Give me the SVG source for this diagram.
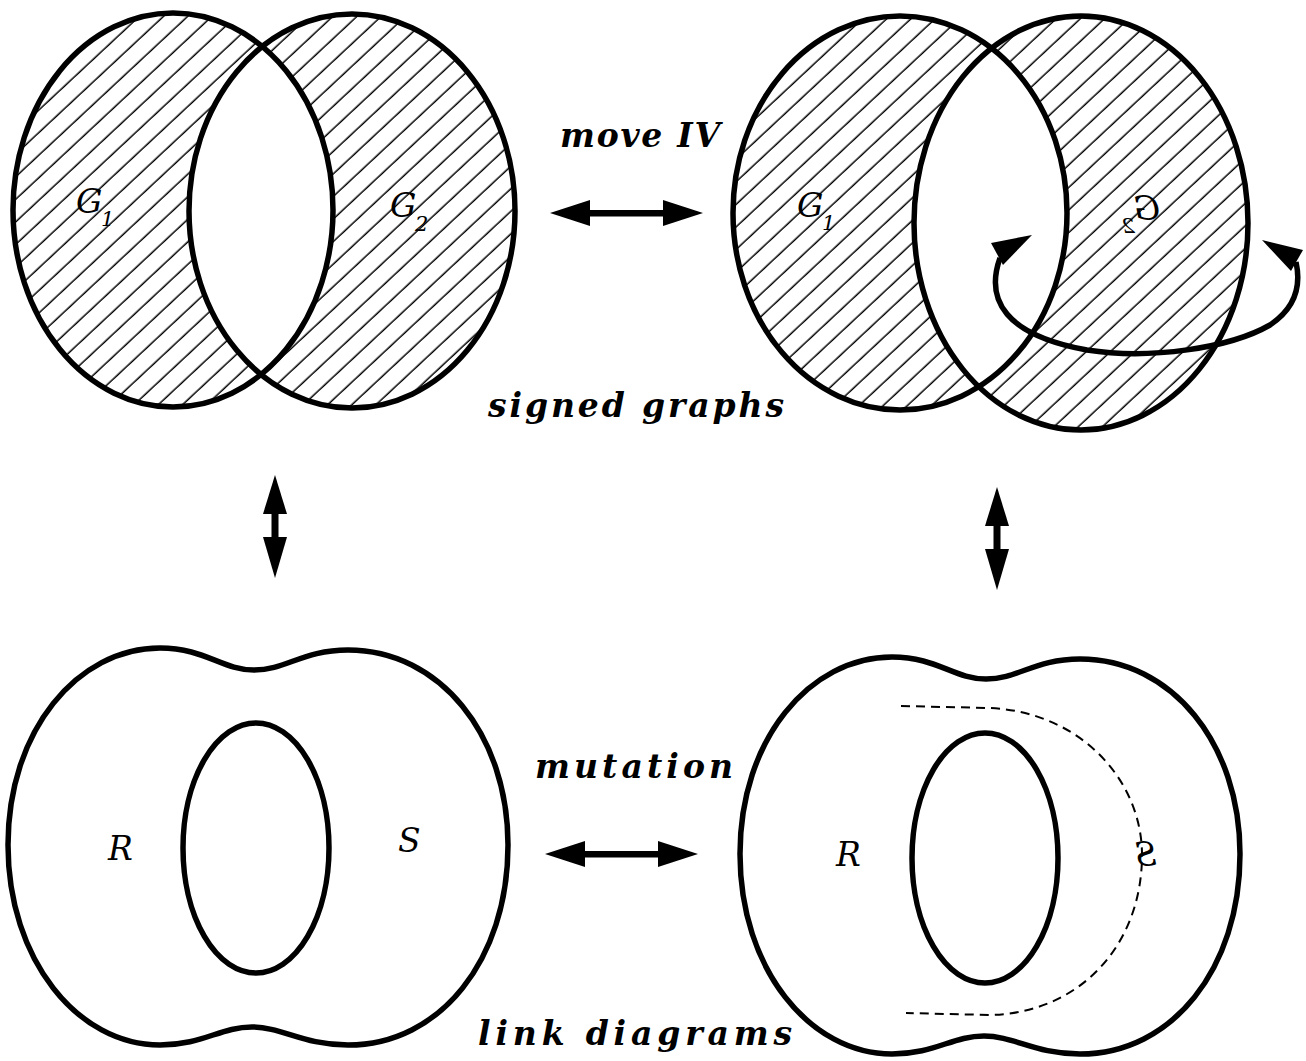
<svg xmlns="http://www.w3.org/2000/svg" width="1306" height="1061" viewBox="0 0 1306 1061">
<style>
.ln{fill:none;stroke:#000;stroke-width:5.5}
.hatch{fill:url(#hatch);fill-rule:evenodd;stroke:none}
.cap{font-family:"DejaVu Serif",serif;font-style:italic;font-weight:bold;font-size:33px;fill:#000}
.lab{font-family:"DejaVu Serif",serif;font-style:italic;font-size:33px;fill:#000}
.sub{font-family:"DejaVu Serif",serif;font-style:italic;font-size:21px;fill:#000}
.ah{fill:#000;stroke:none}
.dash{fill:none;stroke:#000;stroke-width:2;stroke-dasharray:9 6}
</style>
<defs>
<pattern id="hatch" width="20" height="16.5" patternUnits="userSpaceOnUse" patternTransform="rotate(-43)">
<line x1="0" y1="8" x2="20" y2="8" stroke="#000" stroke-width="1.5"/>
</pattern>
<path id="outer" d="M8 845 C8 730 78 648 160 648 C205 648 222 670 254 670 C286 670 303 650 348 650 C440 650 508 735 508 845 C508 960 440 1045 348 1045 C303 1045 282 1027 252 1027 C220 1027 203 1045 160 1045 C78 1045 8 960 8 845 Z"/>
</defs>
<rect width="1306" height="1061" fill="#fff"/>

<g id="signed-graph-left">
<path class="hatch" d="M13 210 a160 197 0 1 0 320 0 a160 197 0 1 0 -320 0 Z M189 211 a163 197 0 1 0 326 0 a163 197 0 1 0 -326 0 Z"/>
<ellipse class="ln" cx="173" cy="210" rx="160" ry="197"/>
<ellipse class="ln" cx="352" cy="211" rx="163" ry="197"/>
<text class="lab" x="76" y="213">G</text><text class="sub" x="101" y="226">1</text>
<text class="lab" x="390" y="217">G</text><text class="sub" x="415" y="231">2</text>
</g>

<g id="signed-graph-right">
<path class="hatch" d="M733 213 a167 197 0 1 0 334 0 a167 197 0 1 0 -334 0 Z M914 223 a167 207 0 1 0 334 0 a167 207 0 1 0 -334 0 Z"/>
<ellipse class="ln" cx="900" cy="213" rx="167" ry="197"/>
<ellipse class="ln" cx="1081" cy="223" rx="167" ry="207"/>
<text class="lab" x="797" y="217">G</text><text class="sub" x="822" y="230">1</text>
<g transform="translate(1160,0) scale(-1,1)">
<text class="lab" x="0" y="220">G</text><text class="sub" x="25" y="233">2</text>
</g>
<path class="ln" d="M1000 258 C985 300 1005 335 1087 350 C1150 360 1230 348 1270 325 C1300 305 1300 280 1296 262"/>
<polygon class="ah" points="1032,235 991,243 1003,265"/>
<polygon class="ah" points="1262,240 1303,250 1291,271"/>
</g>

<g id="link-diagram-left">
<use href="#outer" class="ln"/>
<ellipse class="ln" cx="256" cy="848" rx="73" ry="125"/>
<text class="lab" x="108" y="860">R</text>
<text class="lab" x="398" y="852">S</text>
</g>

<g id="link-diagram-right">
<use href="#outer" class="ln" transform="translate(732,9)"/>
<ellipse class="ln" cx="985" cy="858" rx="73" ry="125"/>
<path class="dash" d="M901 706 L990 708 C1080 712 1142 780 1142 855 C1142 945 1080 1013 990 1015 L906 1013"/>
<text class="lab" x="836" y="866">R</text>
<g transform="translate(1157,0) scale(-1,1)">
<text class="lab" x="0" y="866">S</text>
</g>
</g>

<g id="captions">
<text class="cap" x="560" y="147" textLength="160" lengthAdjust="spacing">move IV</text>
<text class="cap" x="488" y="417" textLength="296" lengthAdjust="spacing">signed graphs</text>
<text class="cap" x="535" y="778" textLength="198" lengthAdjust="spacing">mutation</text>
<text class="cap" x="478" y="1045" textLength="314" lengthAdjust="spacing">link diagrams</text>
</g>

<g id="connectors">
<g id="arrow-top">
<rect x="585" y="210" width="84" height="6.5" class="ah"/>
<polygon class="ah" points="550,213 590,200 590,226"/>
<polygon class="ah" points="703,213 663,200 663,226"/>
</g>
<g id="arrow-bottom">
<rect x="580" y="851" width="84" height="6.5" class="ah"/>
<polygon class="ah" points="545,854 585,841 585,867"/>
<polygon class="ah" points="698,854 658,841 658,867"/>
</g>
<g id="arrow-left-vertical">
<rect x="271.5" y="510" width="7" height="30" class="ah"/>
<polygon class="ah" points="275,475 263,514 287,514"/>
<polygon class="ah" points="275,578 263,537 287,537"/>
</g>
<g id="arrow-right-vertical">
<rect x="993.5" y="522" width="7" height="30" class="ah"/>
<polygon class="ah" points="997,487 985,526 1009,526"/>
<polygon class="ah" points="997,590 985,549 1009,549"/>
</g>
</g>
</svg>
